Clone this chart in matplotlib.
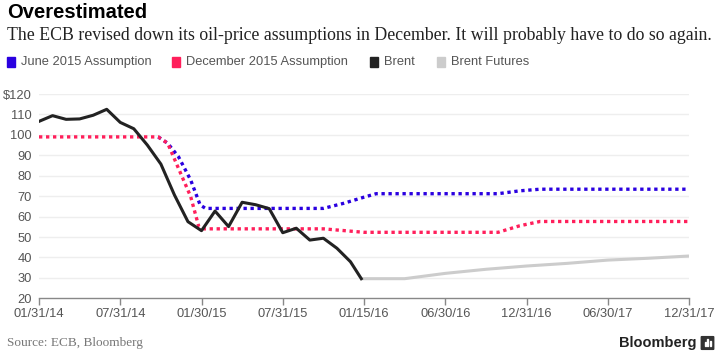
import matplotlib

matplotlib.use("Agg")
import matplotlib.pyplot as plt
from matplotlib.patches import FancyBboxPatch, Rectangle

# months since 01/31/14; the source axis spaces its date labels evenly
tick_pos = [0, 6, 12, 18, 24, 30, 36, 42, 48]
tick_labels = ["01/31/14", "07/31/14", "01/30/15", "07/31/15", "01/15/16",
               "06/30/16", "12/31/16", "06/30/17", "12/31/17"]
y_ticks = [20, 30, 40, 50, 60, 70, 80, 90, 100, 110, 120]
y_labels = ["20", "30", "40", "50", "60", "70", "80", "90", "100", "110", "$120"]

brent_x = list(range(0, 24)) + [23.8]
brent_y = [106.6, 109.4, 107.6, 107.8, 109.6, 112.5, 106.1, 103.0, 95.0, 85.7,
           70.6, 57.5, 53.1, 62.7, 55.1, 67.0, 65.8, 63.9, 52.1, 54.3,
           48.5, 49.4, 44.5, 37.9, 29.6]

futures_x = [23.8, 27, 30, 33, 36, 39, 42, 45, 48]
futures_y = [29.6, 29.6, 32.2, 34.2, 35.8, 37.1, 38.7, 39.6, 40.7]

june_x = [8.8, 9.5, 10.3, 11.2, 11.9, 12.3, 21, 22.5, 24, 24.9, 33.9, 35.5, 37, 48]
june_y = [99, 95.9, 89.3, 77.9, 65.7, 64, 64, 66.5, 69.5, 71.2, 71.2, 72.6, 73.4, 73.4]

dec_x = [0, 8.8, 9.5, 10.3, 11.2, 11.8, 12.2, 21, 24, 33.9, 35.5, 37, 48]
dec_y = [99, 99, 95.9, 83.6, 69.8, 55.1, 54, 54, 52.3, 52.3, 55.5, 57.6, 57.6]

BLUE = "#2a00e0"
PINK = "#ff1f5b"
BLACK = "#222222"
GREY = "#cccccc"
TEXT = "#555555"


def draw_header(fig):
    fig.text(7 / 721, 1 - 12 / 364, "Overestimated", fontsize=14.5, fontweight="bold",
             family="Liberation Sans", va="center", ha="left", color="black")
    fig.text(7 / 721, 1 - 35 / 364,
             "The ECB revised down its oil-price assumptions in December. It will probably have to do so again.",
             fontsize=12.8, family="Liberation Serif", va="center", ha="left", color="#222222")

    items = [
        (7, BLUE, "June 2015 Assumption"),
        (172, PINK, "December 2015 Assumption"),
        (370, BLACK, "Brent"),
        (437, GREY, "Brent Futures"),
    ]
    for x0, color, label in items:
        fig.patches.append(Rectangle((x0 / 721, 1 - 67 / 364), 8 / 721, 10 / 364,
                                     transform=fig.transFigure, color=color))
        fig.text((x0 + 14) / 721, 1 - 62 / 364, label, fontsize=9.3,
                 family="Liberation Sans", color=TEXT, va="center", ha="left")


def draw_footer(fig):
    fig.text(7 / 721, 1 - 343 / 364, "Source: ECB, Bloomberg", fontsize=9.5,
             family="Liberation Serif", color="#777777", va="center", ha="left")
    fig.text(697 / 721, 1 - 343 / 364, "Bloomberg", fontsize=10.5, fontweight="bold",
             family="Liberation Sans", color="#222222", va="center", ha="right")
    fig.patches.append(FancyBboxPatch((702 / 721, 1 - 349 / 364), 11 / 721, 12 / 364,
                                      boxstyle="round,pad=0.001", transform=fig.transFigure,
                                      color="#333333"))
    for i, h in enumerate([4, 7, 5]):
        fig.patches.append(Rectangle(((704.5 + i * 2.5) / 721, 1 - 346 / 364), 1.2 / 721, h / 364,
                                     transform=fig.transFigure, color="white"))


def main():
    fig = plt.figure(figsize=(7.21, 3.64), dpi=100)
    ax = fig.add_axes([39 / 721, 1 - 298.3 / 364, 650 / 721, 204.3 / 364])

    ax.plot(futures_x, futures_y, color=GREY, lw=2.2, solid_capstyle="butt", zorder=2)
    ax.plot(june_x, june_y, color=BLUE, lw=2.4, linestyle=(0, (1, 1.1)), zorder=3)
    ax.plot(dec_x, dec_y, color=PINK, lw=2.4, linestyle=(0, (1, 1.1)), zorder=4)
    ax.plot(brent_x, brent_y, color=BLACK, lw=2.2, zorder=5)

    ax.set_xlim(0, 48)
    ax.set_ylim(20, 120)
    ax.set_yticks(y_ticks)
    ax.set_yticklabels(y_labels)
    ax.set_xticks(tick_pos)
    ax.set_xticklabels(tick_labels)

    for y in y_ticks[1:]:
        ax.axhline(y, color="#eeeeee", lw=1, zorder=1)

    for side in ["top", "right", "left"]:
        ax.spines[side].set_visible(False)
    ax.spines["bottom"].set_color("#888888")
    ax.spines["bottom"].set_linewidth(1)

    ax.tick_params(axis="x", length=5, width=1, color="#888888", labelsize=9.3,
                   labelcolor=TEXT, pad=2)
    ax.tick_params(axis="y", length=0, labelsize=9.3, labelcolor=TEXT, pad=5)
    for lab in ax.get_xticklabels() + ax.get_yticklabels():
        lab.set_family("Liberation Sans")

    draw_header(fig)
    draw_footer(fig)

    fig.savefig("out.png", dpi=100)
    plt.close(fig)


if __name__ == "__main__":
    main()
